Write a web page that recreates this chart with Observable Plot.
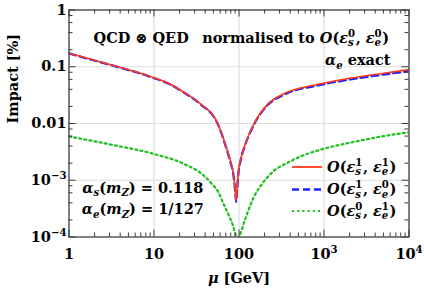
<!DOCTYPE html>
<html><head><meta charset="utf-8">
<script src="https://cdn.jsdelivr.net/npm/d3@7"></script>
<script src="https://cdn.jsdelivr.net/npm/@observablehq/plot@0.6"></script>
<style>body{margin:0;background:#fff}svg{display:block}</style>
</head><body><div id="chart"></div>
<script>
// ---- data ----
const muRed = [1, 2.35, 3.93, 10, 15.2, 22.4, 35.2, 55.4, 72.6, 80, 86, 90, 92.5, 95, 98, 105, 119, 149, 215, 337, 832, 2045, 5050, 10000];
const red   = [0.173, 0.121, 0.098, 0.0638, 0.050, 0.0356, 0.0222, 0.0105, 0.0034, 0.0021, 0.0013, 0.0007, 0.00044, 0.0007, 0.0013, 0.0024, 0.0044, 0.0097, 0.0215, 0.0334, 0.0487, 0.063, 0.077, 0.089];
const blue  = [0.172, 0.120, 0.097, 0.0632, 0.0495, 0.0352, 0.0219, 0.0103, 0.0033, 0.0020, 0.00125, 0.00067, 0.00042, 0.00067, 0.00125, 0.0023, 0.0043, 0.0094, 0.0208, 0.0322, 0.0467, 0.060, 0.073, 0.0835];
const muGreen = [1, 3.08, 10, 22.4, 38.5, 48, 57, 66, 76, 87, 93, 97, 101, 109, 125, 149, 188, 224, 423, 1000, 2045, 5050, 10000];
const green   = [0.0059, 0.00427, 0.0029, 0.00195, 0.00121, 0.00086, 0.00062, 0.00038, 0.00024, 0.00014, 0.00009, 0.000001, 0.00009, 0.00014, 0.00026, 0.0005, 0.00087, 0.0012, 0.00224, 0.0036, 0.0046, 0.0060, 0.0070];

const seriesLabels = ["$O(ε_s^1, ε_e^1)$", "$O(ε_s^1, ε_e^0)$", "$O(ε_s^0, ε_e^1)$"];
const seriesColors = ["#ff3a1c", "#2020ff", "#1cbf1c"];

const xMajor = [1, 10, 100, 1000, 10000];
const xTickLabels = ["1", "10", "100", "10^{3}", "10^{4}"];
const yMajor = [1e-4, 1e-3, 1e-2, 1e-1, 1];
const yTickLabels = ["10^{−4}", "10^{−3}", "0.01", "0.1", "1"];
const xMinorMult = [2, 3, 4, 5, 6, 7, 8, 9];
const yMinorMult = [2, 4, 6, 8];
const xMinor = [1, 10, 100, 1000].flatMap(d => xMinorMult.map(m => d * m));
const yMinor = [1e-4, 1e-3, 1e-2, 1e-1].flatMap(d => yMinorMult.map(m => d * m));

const xLabel = "$μ$ [GeV]";
const yLabel = "Impact [%]";
const noteTitle = "QCD ⊗ QED";
const noteNorm = "normalised to $O(ε_s^0, ε_e^0)$";
const noteExact = "$α_e$ exact";
const noteAs = "$α_s(m_Z)$ = 0.118";
const noteAe = "$α_e(m_Z)$ = 1/127";

// ---- layout ----
const W = 424, H = 298, mL = 68.5, mR = 15.5, mT = 9.5, mB = 61.5;
const iW = W - mL - mR, iH = H - mT - mB;
const FS = 14.5;
const axisCol = "#3c3c3c";

const rows = [
  ...muRed.map((m, i) => ({mu: m, v: red[i], s: 0})),
  ...muRed.map((m, i) => ({mu: m, v: blue[i], s: 1})),
  ...muGreen.map((m, i) => ({mu: m, v: green[i], s: 2}))
];

const plot = Plot.plot({
  width: W, height: H,
  marginLeft: mL, marginRight: mR, marginTop: mT, marginBottom: mB,
  x: {type: "log", domain: [1, 1e4]},
  y: {type: "log", domain: [1e-4, 1]},
  style: {fontFamily: "'DejaVu Serif', serif", fontWeight: "bold", fontSize: FS + "px", background: "#fff", color: "#000"},
  marks: [
    Plot.ruleX([10, 100, 1000], {stroke: "#dedede", strokeWidth: 1.2}),
    Plot.ruleY([1e-3, 1e-2, 1e-1], {stroke: "#dedede", strokeWidth: 1.2}),
    Plot.line(rows.filter(d => d.s === 2), {x: "mu", y: "v", stroke: seriesColors[2], strokeWidth: 2.2, strokeDasharray: "2,3.2", curve: "monotone-x", clip: true}),
    Plot.line(rows.filter(d => d.s === 1), {x: "mu", y: "v", stroke: seriesColors[1], strokeWidth: 2.3, strokeDasharray: "7,4", curve: "monotone-x", clip: true}),
    Plot.line(rows.filter(d => d.s === 0), {x: "mu", y: "v", stroke: seriesColors[0], strokeWidth: 1.6, curve: "monotone-x", clip: true}),
    Plot.frame({stroke: axisCol, strokeWidth: 1.3}),
    // inward ticks, all four sides
    Plot.ruleX(xMajor, {stroke: axisCol, insetTop: iH - 7}),
    Plot.ruleX(xMajor, {stroke: axisCol, insetBottom: iH - 7}),
    Plot.ruleX(xMinor, {stroke: axisCol, insetTop: iH - 4}),
    Plot.ruleX(xMinor, {stroke: axisCol, insetBottom: iH - 4}),
    Plot.ruleY(yMajor, {stroke: axisCol, insetRight: iW - 7}),
    Plot.ruleY(yMajor, {stroke: axisCol, insetLeft: iW - 7}),
    Plot.ruleY(yMinor, {stroke: axisCol, insetRight: iW - 4}),
    Plot.ruleY(yMinor, {stroke: axisCol, insetLeft: iW - 4}),
    Plot.axisX({ticks: xMajor, tickSize: 0, tickPadding: 11.5, tickFormat: d => xTickLabels[xMajor.indexOf(d)], label: null, fill: "#000"}),
    Plot.axisY({ticks: yMajor, tickSize: 0, tickPadding: 2.5, tickFormat: d => yTickLabels[yMajor.findIndex(v => Math.abs(Math.log10(v) - Math.log10(d)) < 1e-6)], label: null, fill: "#000"}),
    Plot.text([xLabel], {text: d => d, frameAnchor: "bottom", dy: 45.9, fill: "#000"}),
    Plot.text([yLabel], {text: d => d, frameAnchor: "left", rotate: -90, dx: -56, fill: "#000"}),
    Plot.text([noteTitle], {text: d => d, frameAnchor: "top-left", textAnchor: "start", dx: 24.5, dy: 22.9, fill: "#000"}),
    Plot.text([noteNorm], {text: d => d, frameAnchor: "top-right", textAnchor: "end", dx: -20, dy: 22.6, fill: "#000"}),
    Plot.text([noteExact], {text: d => d, frameAnchor: "top-right", textAnchor: "end", dx: -18.5, dy: 45.2, fill: "#000"}),
    Plot.text([noteAs], {text: d => d, frameAnchor: "bottom-left", textAnchor: "middle", dx: 73.8, dy: -44.4, fill: "#000"}),
    Plot.text([noteAe], {text: d => d, frameAnchor: "bottom-left", textAnchor: "middle", dx: 73.8, dy: -22.8, fill: "#000"})
  ]
});
document.getElementById("chart").appendChild(plot);

// ---- legend (inside the frame, lower right) ----
const svg = d3.select(plot);
const legendRows = [167, 189.5, 211];
const dashes = [null, "7,4", "2,3.2"];
const widths = [1.8, 2.3, 2.2];
const lg = svg.append("g").attr("text-anchor", "start");
seriesLabels.forEach((lab, i) => {
  lg.append("line").attr("x1", 292).attr("x2", 322).attr("y1", legendRows[i]).attr("y2", legendRows[i])
    .attr("stroke", seriesColors[i]).attr("stroke-width", widths[i]).attr("stroke-dasharray", dashes[i]);
  lg.append("text").attr("x", 327).attr("y", legendRows[i]).attr("dy", "0.32em").attr("text-anchor", "start").attr("fill", "#000").text(lab);
});

// ---- math markup -> tspans ----
function renderMath(el, src) {
  const fs = parseFloat(getComputedStyle(el).fontSize) || FS;
  const NS = "http://www.w3.org/2000/svg";
  while (el.firstChild) el.removeChild(el.firstChild);
  let math = false, pDy = 0, pDx = 0, i = 0, run = "", runIt = false;
  const add = (txt, o = {}) => {
    const ts = document.createElementNS(NS, "tspan");
    ts.textContent = txt;
    if (o.italic) ts.setAttribute("font-style", "italic");
    if (o.size) ts.setAttribute("font-size", o.size);
    const dy = (o.dy || 0) + pDy, dx = (o.dx || 0) + pDx;
    if (dy) ts.setAttribute("dy", dy);
    if (dx) ts.setAttribute("dx", dx);
    pDy = 0; pDx = 0;
    el.appendChild(ts);
    return ts;
  };
  const flush = () => { if (run) { add(run, {italic: runIt}); run = ""; } };
  const group = () => {
    if (src[i] === "{") { const j = src.indexOf("}", i); const g = src.slice(i + 1, j); i = j + 1; return g; }
    return src[i++];
  };
  const isIt = g => math && /^[A-Za-zα-ω]+$/.test(g);
  while (i < src.length) {
    const c = src[i];
    if (c === "$") { flush(); math = !math; i++; continue; }
    if (c === "^" || c === "_") {
      flush();
      let sup = null, sub = null;
      while (src[i] === "^" || src[i] === "_") { const k = src[i]; i++; const g = group(); if (k === "^") sup = g; else sub = g; }
      const ss = fs * 0.7, up = fs * 0.42, down = fs * 0.24;
      if (sup !== null && sub !== null) {
        const a = add(sup, {size: ss, dy: -up, italic: isIt(sup)});
        const wa = a.getComputedTextLength();
        const b = add(sub, {size: ss, dy: up + down, dx: -wa, italic: isIt(sub)});
        const wb = b.getComputedTextLength();
        pDy = -down; pDx = Math.max(0, wa - wb) + 0.5;
      } else if (sup !== null) { add(sup, {size: ss, dy: -up, italic: isIt(sup)}); pDy = up; }
      else { add(sub, {size: ss, dy: down, italic: isIt(sub)}); pDy = -down; }
      continue;
    }
    const it = math && /[A-Za-zα-ωΑ-Ω]/.test(c);
    if (run && it !== runIt) flush();
    runIt = it; run += c; i++;
  }
  flush();
}
plot.querySelectorAll("text").forEach(el => {
  const s = el.textContent;
  if (/[\$\^_]/.test(s)) renderMath(el, s);
});
</script></body></html>
